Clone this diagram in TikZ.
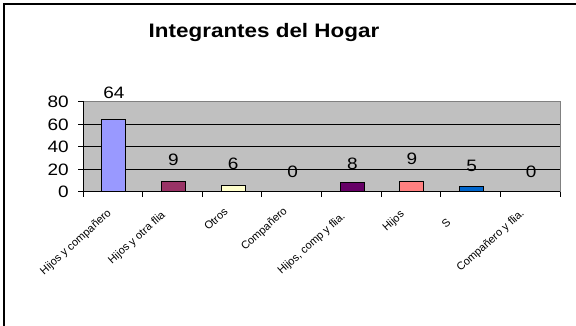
\documentclass[tikz,border=0pt]{standalone}
\usepackage{fontspec}
\setmainfont{Liberation Sans}[FakeStretch=1.15]
\newfontfamily\catfont{Liberation Sans}
\usepackage{tikz}
\usetikzlibrary{positioning}
\definecolor{PlotGray}{HTML}{C0C0C0}
\definecolor{AxisGray}{HTML}{808080}
\definecolor{BarLila}{HTML}{9999FF}
\definecolor{BarVino}{HTML}{993366}
\definecolor{BarCrema}{HTML}{FFFFCC}
\definecolor{BarCeleste}{HTML}{CCFFFF}
\definecolor{BarPurpura}{HTML}{660066}
\definecolor{BarSalmon}{HTML}{FF8080}
\definecolor{BarAzul}{HTML}{0066CC}
\definecolor{BarLavanda}{HTML}{CCCCFF}
\tikzset{
  % Text styles
  titletext/.style={font=\fontsize{19.5}{22}\selectfont\bfseries, inner sep=0pt},
  numtext/.style={font=\fontsize{16.5}{18}\selectfont, inner sep=0pt},
  cattext/.style={font=\catfont\fontsize{11}{12}\selectfont, rotate=42, anchor=east, inner sep=0pt},
  % Line styles
  framebox/.style={line width=2pt, black},
  gridline/.style={line width=1pt, black},
  barbox/.style={draw=black, line width=1pt}
}

\begin{document}
\begin{tikzpicture}[x=1pt, y=1pt]
  \useasboundingbox (0,0) rectangle (576,-326);

  % Outer frame (only top and left visible)
  \draw[framebox] (576,-4) -- (4,-4) -- (4,-326);

  % Title
  \node[titletext] (title) at (264,-33) {Integrantes del Hogar};

  % Plot area
  \fill[PlotGray] (83,-101) rectangle (560,-192);
  \draw[AxisGray, line width=0.8pt] (83,-101) -- (560,-101) -- (560,-192);
  \foreach \v in {20,40,60}
    \draw[gridline] (83,{\v*1.125-192}) -- (560,{\v*1.125-192});

  % Axes and ticks
  \draw[gridline] (83,-101) -- (83,-192) -- (560,-192);
  \foreach \v in {0,20,40,60,80} {
    \draw[gridline] (78,{\v*1.125-192}) -- (83,{\v*1.125-192});
    \node[numtext, anchor=east] (ylab\v) at (69,{\v*1.125-192}) {\v};
  }
  \foreach \k in {0,...,8}
    \draw[gridline] ({83+\k*59.625},-192) -- ({83+\k*59.625},-197);

  % Bars, values and categories
  \foreach \i/\v/\col/\ly/\ex/\ey/\lab in {
      1/64/BarLila/93/110/212/{Hijos y compañero},
      2/9/BarVino/160/164/214/{Hijos y otra flia},
      3/6/BarCrema/164/226/210/{Otros},
      4/0/BarCeleste/172/286/210/{Compañero},
      5/8/BarPurpura/164/344/215/{Hijos, comp y flia.},
      6/9/BarSalmon/159/403/213/{Hijos},
      7/5/BarAzul/166/449/221/{S},
      8/0/BarLavanda/172/523/212/{Compañero y flia.}} {
    \pgfmathsetmacro{\cx}{83+(\i-0.5)*59.625+1}
    \ifnum\v>0
      \path[barbox, fill=\col] ({\cx-12},-192) rectangle ({\cx+12},{\v*1.125-192});
    \fi
    \node[numtext] (val\i) at (\cx,-\ly) {\v};
    \node[cattext] (cat\i) at (\ex,-\ey) {\lab};
  }
\end{tikzpicture}
\end{document}
